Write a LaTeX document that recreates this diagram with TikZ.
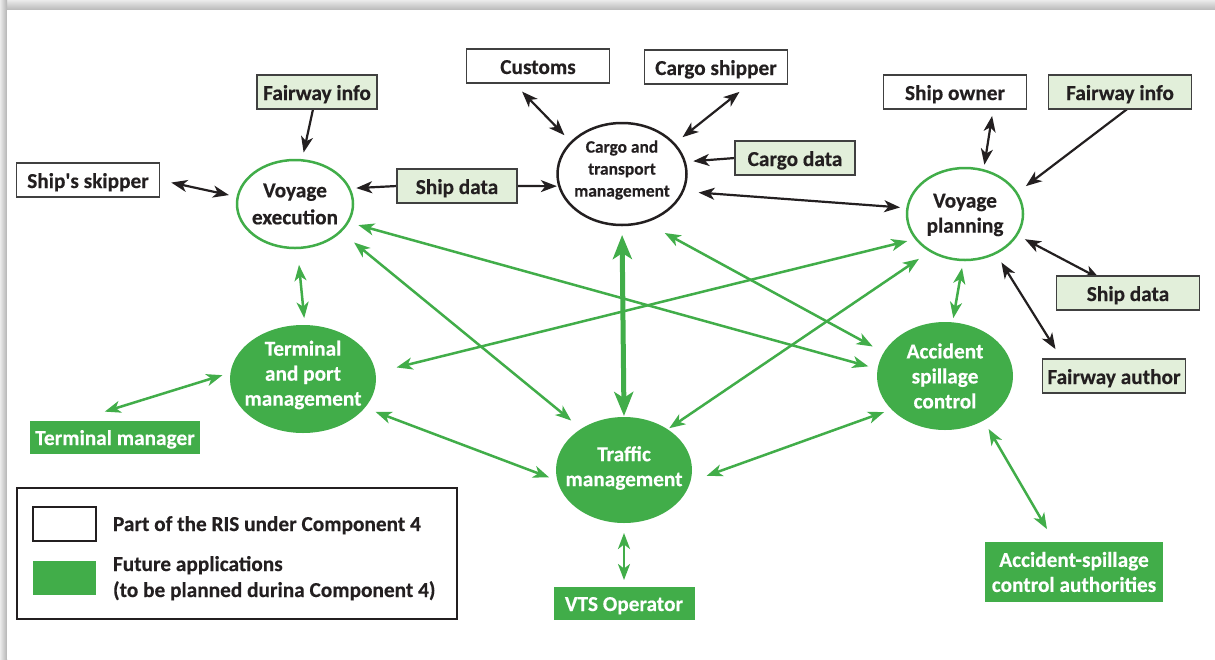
\documentclass[tikz,border=0pt]{standalone}
\usepackage{fontspec}
\setmainfont{Carlito}[BoldFeatures={FakeBold=0.35}]
\usetikzlibrary{shapes.geometric,arrows.meta,backgrounds}

\definecolor{ink}{HTML}{231F20}
\definecolor{grn}{HTML}{41AD49}
\definecolor{pale}{HTML}{E2EFDA}
\definecolor{boxline}{HTML}{404040}

\newcommand\labfont{\fontsize{21.3}{25}\selectfont\bfseries}
\newcommand\smallfont{\fontsize{17.4}{22}\selectfont\bfseries}

\tikzset{
  every node/.style={outer sep=0pt},
  oneline/.style={text height=17pt, text depth=1pt},
  wbox/.style={draw=boxline, line width=1.3pt, fill=white, minimum width=143pt,
               minimum height=34pt, inner sep=0pt, font=\labfont, text=ink, oneline},
  pbox/.style={wbox, fill=pale},
  gbox/.style={fill=grn, minimum height=33pt, inner sep=0pt, font=\labfont,
               text=white, align=center},
  oval/.style={ellipse, line width=2.5pt, fill=white, inner sep=0pt},
  goval/.style={ellipse, fill=grn, inner sep=0pt},
  darktext/.style={font=\labfont, text=ink, align=center, inner sep=0pt},
  lighttext/.style={font=\labfont, text=white, align=center, inner sep=0pt},
  legtext/.style={font=\labfont, text=ink, anchor=base west, inner sep=0pt},
  bl/.style={draw=ink, line width=2.2pt,
             >={Stealth[length=16pt,width=12pt,inset=4.5pt]}},
  gr/.style={draw=grn, line width=2.5pt,
             >={Stealth[length=16pt,width=12pt,inset=4.5pt]}},
  grthick/.style={draw=grn, line width=5pt,
             >={Stealth[length=24pt,width=19pt,inset=6pt]}},
}

\begin{document}
\begin{tikzpicture}[x=1pt, y=-1pt]
\useasboundingbox (0,0) rectangle (1215,659);

% ---- round components ----
\node[oval, draw=grn, minimum width=116pt, minimum height=88pt,
      label={[darktext, align=center, font=\fontsize{21.3}{27}\selectfont\bfseries]center:Voyage\\execution}] (ve) at (295,204) {};
\node[oval, draw=ink, minimum width=129pt, minimum height=102pt,
      label={[darktext, font=\smallfont, yshift=4pt]center:Cargo and\\transport\\management}] (ct) at (622,174) {};
\node[oval, draw=grn, minimum width=116pt, minimum height=92pt,
      label={[darktext, yshift=-1pt]center:Voyage\\planning}] (vp) at (965,214) {};
\node[goval, minimum width=146pt, minimum height=108pt,
      label={[lighttext, yshift=4pt]center:Terminal\\and port\\management}] (tp) at (303,379) {};
\node[goval, minimum width=136pt, minimum height=108pt,
      label={[lighttext]center:Accident\\spillage\\control}] (as) at (945,376) {};
\node[goval, minimum width=136pt, minimum height=106pt,
      label={[lighttext, yshift=2pt]center:Traffic\\management}] (tm) at (624,470) {};

% ---- actors ----
\node[wbox] (cust)  at (538,66)  {Customs};
\node[wbox] (cship) at (716,67)  {Cargo shipper};
\node[wbox] (sown)  at (955,92)  {Ship owner};
\node[wbox] (skip)  at (88,180)  {Ship\textquotesingle s skipper};

% ---- data sources ----
\node[pbox, minimum width=120pt] (fil)  at (317,92)   {Fairway info};
\node[pbox, minimum width=120pt] (sdm)  at (457,186)  {Ship data};
\node[pbox, minimum width=120pt] (cdat) at (795,158)  {Cargo data};
\node[pbox] (fir)   at (1120,92)  {Fairway info};
\node[pbox] (sdr)   at (1128,293) {Ship data};
\node[pbox] (fauth) at (1114,376) {Fairway author};

% ---- future users ----
\node[gbox, oneline, minimum width=170pt] (tmgr) at (115,437) {Terminal manager};
\node[gbox, oneline, minimum width=141pt] (vts)  at (624,603) {VTS Operator};
\node[gbox, minimum width=178pt, minimum height=60pt] (auth) at (1074,572)
      {Accident-spillage\\control authorities};

% ---- legend ----
\node[draw=ink, line width=2.2pt, minimum width=440pt, minimum height=131pt,
      inner sep=0pt] (legend) at (237,553.5) {};
\node[draw=ink, line width=2pt, fill=white, minimum width=63pt,
      minimum height=34pt, inner sep=0pt] (swwhite) at (64,523.5) {};
\node[fill=grn, minimum width=63pt, minimum height=34pt,
      inner sep=0pt] (swgreen) at (64.5,578) {};
\node[legtext] (leg1) at (113,531) {Part of the RIS under Component 4};
\node[legtext] (leg2) at (113,571) {Future applications};
\node[legtext] (leg3) at (113,597) {(to be planned durina Component 4)};

\begin{scope}[on background layer]
  % page with drop shadow
  \fill[top color=black!8, bottom color=black!28] (0,0) rectangle (1215,10);
  \fill[left color=black!8, right color=black!30] (0,0) rectangle (7,659);
  \fill[white] (7,10) rectangle (1215,659);

  % existing information flows
  \draw[bl,->,shorten >=8pt] (fil.-103) -- (ve.81);
  \draw[bl,<->,shorten <=12pt,shorten >=9pt] (skip.east) -- (ve.173);
  \draw[bl,->,shorten >=7pt] (sdm.west) -- (ve.16);
  \draw[bl,->,shorten >=2.5pt] (sdm.east) -- (ct.191);
  \draw[bl,<->,shorten <=12pt,shorten >=10pt] (cust.215) -- (ct.148);
  \draw[bl,<->,shorten <=12.6pt,shorten >=10.8pt] (cship.-27.5) -- (ct.30.5);
  \draw[bl,->,shorten >=8.6pt] (cdat.west) -- (ct.11);
  \draw[bl,<->,shorten <=16pt,shorten >=7.4pt] (ct.-16) -- (vp.174.7);
  \draw[bl,<->,shorten <=7pt,shorten >=5.7pt] (sown.-24) -- (vp.67.8);
  \draw[bl,->,shorten >=11.6pt] (fir.-67.6) -- (vp.22.8);
  \draw[bl,<->,shorten <=9.3pt,shorten >=-6pt] (vp.-22.6) -- (sdr.153);
  \draw[bl,<->,shorten <=11.6pt,shorten >=11pt] (fauth.162.8) -- (vp.-52.4);

  % future information flows
  \draw[gr,<->,shorten <=17pt,shorten >=7pt] (ve.-87.2) -- (tp.88.1);
  \draw[gr,<->,shorten <=30pt,shorten >=8.5pt] (tmgr.157.4) -- (tp.175);
  \draw[gr,<->,shorten <=11.6pt,shorten >=8.7pt] (tp.-25.3) -- (tm.189.8);
  \draw[gr,<->,shorten <=10pt,shorten >=6.5pt] (tm.south) -- (vts.north);
  \draw[gr,<->,shorten <=17.3pt,shorten >=8pt] (tm.-10.9) -- (as.212.3);
  \draw[gr,<->,shorten <=9.9pt,shorten >=14.9pt] (as.-49.1) -- (auth.123.3);
  \draw[gr,<->,shorten <=8pt,shorten >=4.3pt] (vp.-92.1) -- (as.82.1);
  \draw[grthick,<->,shorten <=10pt,shorten >=1pt] (ct.south) -- (tm.north);
  \draw[gr,<->,shorten <=17.6pt,shorten >=13pt] (ve.-31.7) -- (tm.136.1);
  \draw[gr,<->,shorten <=10.9pt,shorten >=9.6pt] (ve.-19.3) -- (as.174.1);
  \draw[gr,<->,shorten <=21.7pt,shorten >=9.2pt] (tp.5.5) -- (vp.207);
  \draw[gr,<->,shorten <=23.3pt,shorten >=12.6pt] (ct.-65.1) -- (as.159);
  \draw[gr,<->,shorten <=2pt,shorten >=14pt] (tm.43.7) -- (vp.227.4);
\end{scope}
\end{tikzpicture}
\end{document}
